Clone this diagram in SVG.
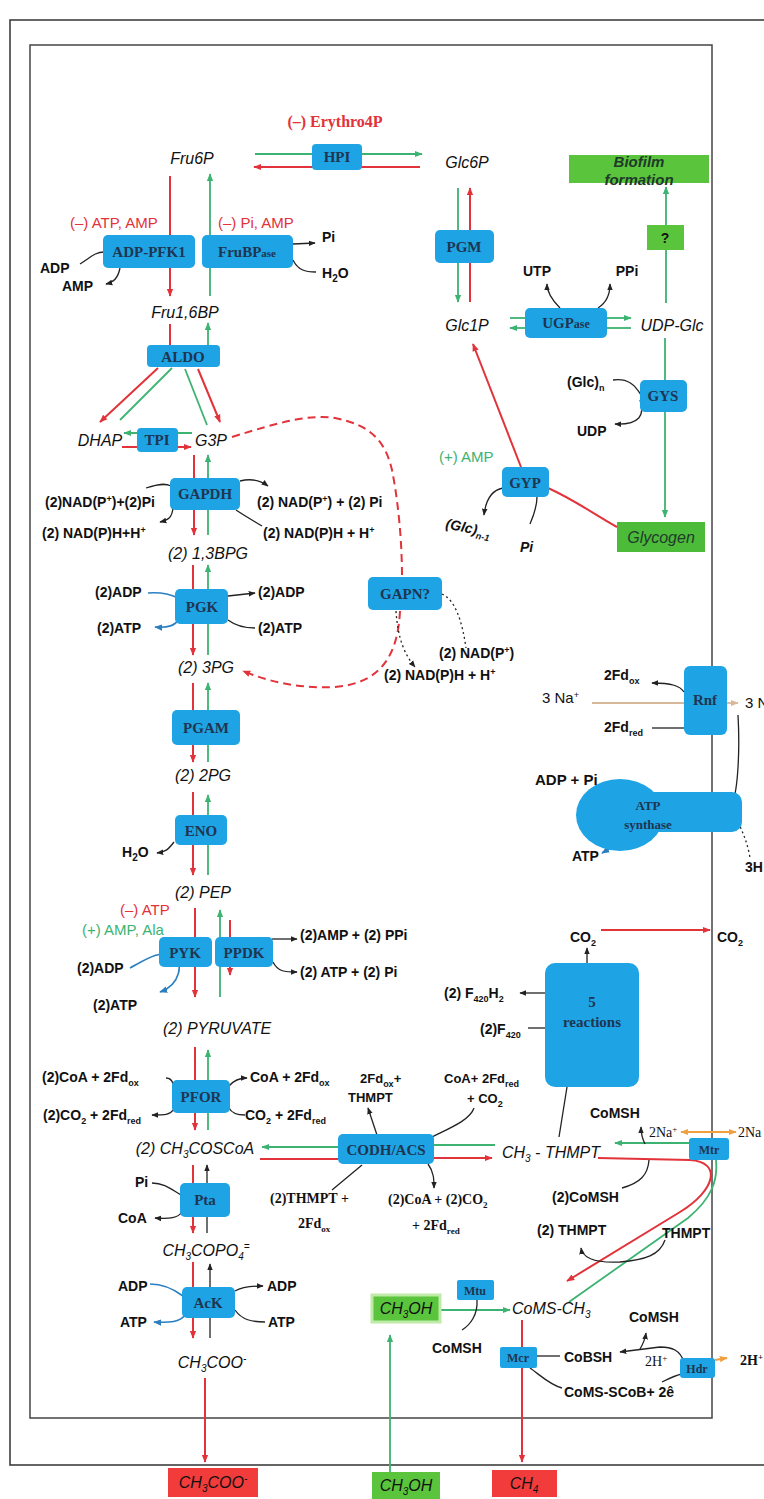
<svg xmlns="http://www.w3.org/2000/svg" width="764" height="1499" viewBox="0 0 764 1499">
<defs>
<style>
.box{fill:#1ea3e4}
.gbox{fill:#5ac53c}
.rbox{fill:#f23c3c}
.en{font-family:"Liberation Serif",serif;font-weight:bold;font-size:15px;fill:#1f3550;text-anchor:middle}
.ens{font-family:"Liberation Serif",serif;font-weight:bold;font-size:12px;fill:#1f3550;text-anchor:middle}
.met{font-family:"Liberation Sans",sans-serif;font-style:italic;font-size:16px;fill:#111}
.mid{text-anchor:middle}
.co{font-family:"Liberation Sans",sans-serif;font-weight:bold;font-size:14px;fill:#111}
.ser{font-family:"Liberation Serif",serif;font-weight:bold;font-size:14px;fill:#111}
.rr{font-family:"Liberation Sans",sans-serif;font-size:15px;fill:#e2323a}
.rg{font-family:"Liberation Sans",sans-serif;font-size:15px;fill:#3cb371}
.r{stroke:#e2323a;stroke-width:2;fill:none}
.g{stroke:#3cb371;stroke-width:1.8;fill:none}
.k{stroke:#222;stroke-width:1.3;fill:none}
.b{stroke:#2a7fc0;stroke-width:1.6;fill:none}
.t{stroke:#d8b89a;stroke-width:1.8;fill:none}
.o{stroke:#f0a040;stroke-width:2;fill:none}
.dash{stroke-dasharray:8 5}
.dot{stroke-dasharray:2 3}
</style>
<marker id="ar" viewBox="0 0 10 10" refX="9" refY="5" markerWidth="8" markerHeight="8" markerUnits="userSpaceOnUse" orient="auto"><path d="M0,1 L10,5 L0,9 z" fill="#e2323a"/></marker>
<marker id="ag" viewBox="0 0 10 10" refX="9" refY="5" markerWidth="8" markerHeight="8" markerUnits="userSpaceOnUse" orient="auto"><path d="M0,1 L10,5 L0,9 z" fill="#3cb371"/></marker>
<marker id="ak" viewBox="0 0 10 10" refX="9" refY="5" markerWidth="7" markerHeight="7" markerUnits="userSpaceOnUse" orient="auto"><path d="M0,1 L10,5 L0,9 z" fill="#222"/></marker>
<marker id="ab" viewBox="0 0 10 10" refX="9" refY="5" markerWidth="8" markerHeight="8" markerUnits="userSpaceOnUse" orient="auto"><path d="M0,1 L10,5 L0,9 z" fill="#2a7fc0"/></marker>
<marker id="at" viewBox="0 0 10 10" refX="9" refY="5" markerWidth="8" markerHeight="8" markerUnits="userSpaceOnUse" orient="auto"><path d="M0,1 L10,5 L0,9 z" fill="#d8b89a"/></marker>
<marker id="ao" viewBox="0 0 10 10" refX="9" refY="5" markerWidth="8" markerHeight="8" markerUnits="userSpaceOnUse" orient="auto-start-reverse"><path d="M0,1 L10,5 L0,9 z" fill="#f0a040"/></marker>
</defs>
<rect width="764" height="1499" fill="#fff"/>
<g id="frames">
<path d="M770 20 H10 V1465 H770" fill="none" stroke="#333" stroke-width="1.5"/>
<rect x="30" y="45" width="682" height="1373" fill="none" stroke="#444" stroke-width="1.5"/>
</g>
<g id="connectors">
<path class="g" d="M255 154 L422 154" marker-end="url(#ag)"/>
<path class="r" d="M420 167 L254 167" marker-end="url(#ar)"/>
<path class="r" d="M170 176 L170 296" marker-end="url(#ar)"/>
<path class="g" d="M210 296 L210 174" marker-end="url(#ag)"/>
<path class="k" d="M293 244 L315 243" marker-end="url(#ak)"/>
<path class="k" d="M293 260 C298 270 305 272 316 272"/>
<path class="k" d="M80 264 C90 258 95 252 104 252"/>
<path class="k" d="M120 268 C118 278 114 282 106 284" marker-end="url(#ak)"/>
<path class="r" d="M170 324 L170 345"/>
<path class="g" d="M208 345 L208 323" marker-end="url(#ag)"/>
<path class="r" d="M158 368 L100 422" marker-end="url(#ar)"/>
<path class="g" d="M120 420 L172 368"/>
<path class="g" d="M207 425 L185 369"/>
<path class="r" d="M198 369 L220 422" marker-end="url(#ar)"/>
<path class="g" d="M192 433 L124 433" marker-end="url(#ag)"/>
<path class="r" d="M122 447 L191 447" marker-end="url(#ar)"/>
<path class="r" d="M194 455 L194 535" marker-end="url(#ar)"/>
<path class="g" d="M208 535 L208 455" marker-end="url(#ag)"/>
<path class="k" d="M146 488 C158 484 165 483 171 486"/>
<path class="k" d="M173 508 C172 518 168 520 160 522" marker-end="url(#ak)"/>
<path class="k" d="M240 481 C252 478 260 480 268 486" marker-end="url(#ak)"/>
<path class="k" d="M236 510 C245 516 252 520 262 526"/>
<path class="r" d="M193 565 L193 655" marker-end="url(#ar)"/>
<path class="g" d="M208 655 L208 565" marker-end="url(#ag)"/>
<path class="b" d="M148 593 C162 592 170 594 178 598"/>
<path class="b" d="M180 618 C175 626 168 628 155 627" marker-end="url(#ab)"/>
<path class="k" d="M228 596 L255 593" marker-end="url(#ak)"/>
<path class="k" d="M228 620 C236 626 245 628 255 628"/>
<path class="r" d="M193 683 L193 762" marker-end="url(#ar)"/>
<path class="g" d="M208 762 L208 683" marker-end="url(#ag)"/>
<path class="r" d="M193 792 L193 875" marker-end="url(#ar)"/>
<path class="g" d="M208 875 L208 795" marker-end="url(#ag)"/>
<path class="k" d="M174 842 C168 850 165 852 157 853" marker-end="url(#ak)"/>
<path class="r" d="M195 908 L195 997" marker-end="url(#ar)"/>
<path class="g" d="M220 997 L220 910" marker-end="url(#ag)"/>
<path class="r" d="M230 920 L230 975" marker-end="url(#ar)"/>
<path class="k" d="M272 939 L297 939" marker-end="url(#ak)"/>
<path class="k" d="M273 962 C278 972 285 972 297 972" marker-end="url(#ak)"/>
<path class="b" d="M130 968 C145 960 160 950 172 955 C185 962 180 985 160 992" marker-end="url(#ab)"/>
<path class="r" d="M195 1047 L195 1130" marker-end="url(#ar)"/>
<path class="g" d="M208 1130 L208 1050" marker-end="url(#ag)"/>
<path class="k" d="M166 1078 C170 1078 172 1080 173 1084"/>
<path class="k" d="M229 1086 C234 1080 240 1078 247 1078" marker-end="url(#ak)"/>
<path class="k" d="M173 1110 C170 1115 165 1115 152 1115" marker-end="url(#ak)"/>
<path class="k" d="M229 1108 C232 1114 238 1115 245 1115"/>
<path class="g" d="M338 1147 L262 1147" marker-end="url(#ag)"/>
<path class="r" d="M260 1159 L338 1159"/>
<path class="k" d="M377 1135 L368 1108" marker-end="url(#ak)"/>
<path class="k" d="M432 1137 C450 1128 470 1120 474 1108"/>
<path class="k" d="M362 1165 L332 1190"/>
<path class="k" d="M428 1164 C434 1172 434 1180 434 1188" marker-end="url(#ak)"/>
<path class="g" d="M434 1145 L495 1145"/>
<path class="r" d="M434 1158 L492 1158" marker-end="url(#ar)"/>
<path class="r" d="M193 1165 L193 1233" marker-end="url(#ar)"/>
<path class="k" d="M207 1233 L207 1165" marker-end="url(#ak)"/>
<path class="k" d="M152 1183 C165 1183 172 1190 181 1195"/>
<path class="k" d="M182 1212 C178 1218 170 1219 155 1218" marker-end="url(#ak)"/>
<path class="r" d="M193 1262 L193 1338" marker-end="url(#ar)"/>
<path class="k" d="M210 1338 L210 1264" marker-end="url(#ak)"/>
<path class="b" d="M150 1284 C165 1284 175 1290 183 1296"/>
<path class="b" d="M185 1315 C180 1322 170 1323 154 1322" marker-end="url(#ab)"/>
<path class="k" d="M235 1291 C242 1287 250 1286 263 1286" marker-end="url(#ak)"/>
<path class="k" d="M235 1310 C242 1320 252 1322 265 1322"/>
<path class="r" d="M205 1378 L205 1462" marker-end="url(#ar)"/>
<path class="r dash" d="M232 437 C280 422 310 414 335 418 C370 425 385 440 392 470 C398 500 402 540 402 577"/>
<path class="r dash" d="M400 611 C398 650 385 683 335 687 C295 689 265 680 243 671" marker-end="url(#ar)"/>
<path class="k dot" d="M442 594 C455 600 462 620 466 648"/>
<path class="k dot" d="M396 611 C398 640 405 655 415 667" marker-end="url(#ak)"/>
<path class="g" d="M458 188 L458 302" marker-end="url(#ag)"/>
<path class="r" d="M470 302 L470 188" marker-end="url(#ar)"/>
<path class="g" d="M525 318 L510 318"/>
<path class="g" d="M525 328 L510 328" marker-end="url(#ag)"/>
<path class="g" d="M607 318 L631 318" marker-end="url(#ag)"/>
<path class="g" d="M607 328 L631 328"/>
<path class="k" d="M560 308 C552 300 547 293 547 284" marker-end="url(#ak)"/>
<path class="k" d="M598 308 C606 303 610 295 610 284" marker-end="url(#ak)"/>
<path class="g" d="M666 303 L666 250"/>
<path class="g" d="M666 225 L666 187" marker-end="url(#ag)"/>
<path class="g" d="M665 338 L665 517" marker-end="url(#ag)"/>
<path class="k" d="M613 380 C628 378 635 385 641 395"/>
<path class="k" d="M640 400 C645 415 640 425 615 424" marker-end="url(#ak)"/>
<path class="r" d="M521 467 L473 344" marker-end="url(#ar)"/>
<path class="r" d="M548 488 C575 500 595 515 617 527"/>
<path class="k" d="M503 488 C492 490 486 498 484 515" marker-end="url(#ak)"/>
<path class="k" d="M537 497 C537 507 533 517 530 524"/>
<path class="t" d="M592 703 L684 703"/>
<path class="t" d="M727 703 L738 703" marker-end="url(#at)"/>
<path class="k" d="M684 692 C680 686 672 683 652 683" marker-end="url(#ak)"/>
<path class="k" d="M652 728 L684 728"/>
<path class="k" d="M738 715 C740 750 738 790 732 805"/>
<path class="k dot" d="M738 822 C744 835 748 845 750 858"/>
<path class="k" d="M598 796 C615 802 626 810 627 820 C628 832 622 840 614 846"/>
<path class="b" d="M614 846 L602 853" marker-end="url(#ab)"/>
<path class="k" d="M587 963 L587 948" marker-end="url(#ak)"/>
<path class="r" d="M601 930 L710 930" marker-end="url(#ar)"/>
<path class="k" d="M545 993 L520 993" marker-end="url(#ak)"/>
<path class="k" d="M528 1028 L545 1028"/>
<path class="k" d="M567 1087 L559 1137"/>
<path class="g" d="M689 1143 L615 1143" marker-end="url(#ag)"/>
<path class="k" d="M645 1144 C642 1138 641 1133 641 1127" marker-end="url(#ak)"/>
<path class="o" d="M681 1132 L736 1132" marker-start="url(#ao)" marker-end="url(#ao)"/>
<path class="r" d="M598 1158 L690 1160 C722 1162 716 1190 680 1212 L567 1281" marker-end="url(#ar)"/>
<path class="g" d="M569 1302 L688 1218 C712 1198 718 1180 716 1160"/>
<path class="k" d="M649 1160 C648 1175 640 1183 622 1188"/>
<path class="k" d="M665 1240 C660 1255 645 1260 620 1262 C598 1263 583 1260 581 1248" marker-end="url(#ak)"/>
<path class="g" d="M440 1310 L510 1310" marker-end="url(#ag)"/>
<path class="k" d="M477 1300 C478 1315 470 1325 462 1330"/>
<path class="g" d="M390 1472 L390 1335" marker-end="url(#ag)"/>
<path class="r" d="M522 1320 L522 1462" marker-end="url(#ar)"/>
<path class="k" d="M537 1356 L560 1356"/>
<path class="k" d="M684 1362 C680 1350 672 1347 660 1347 L620 1352" marker-end="url(#ak)"/>
<path class="k" d="M640 1349 C643 1344 645 1340 646 1333" marker-end="url(#ak)"/>
<path class="k" d="M530 1368 C540 1375 550 1385 562 1388"/>
<path class="k" d="M662 1382 C670 1378 676 1375 682 1374"/>
<path class="o" d="M715 1360 L727 1358" marker-end="url(#ao)"/>
</g>
<g id="n-hpi"><rect class="box" x="312" y="144" width="50" height="26" rx="4"/><text class="en" x="337" y="162">HPI</text></g>
<g id="n-pfk"><rect class="box" x="103" y="235" width="92" height="33" rx="5"/><text class="en" x="149" y="257">ADP-PFK1</text></g>
<g id="n-fbp"><rect class="box" x="202" y="235" width="91" height="33" rx="5"/><text class="en" x="247" y="257">FruBP<tspan font-size="11">ase</tspan></text></g>
<g id="n-aldo"><rect class="box" x="147" y="345" width="73" height="22" rx="4"/><text class="en" x="183" y="362">ALDO</text></g>
<g id="n-tpi"><rect class="box" x="137" y="428" width="41" height="24" rx="4"/><text class="en" x="157" y="445">TPI</text></g>
<g id="n-gapdh"><rect class="box" x="170" y="478" width="70" height="32" rx="5"/><text class="en" x="205" y="499">GAPDH</text></g>
<g id="n-pgk"><rect class="box" x="175" y="589" width="53" height="35" rx="5"/><text class="en" x="202" y="612">PGK</text></g>
<g id="n-pgam"><rect class="box" x="172" y="710" width="68" height="35" rx="5"/><text class="en" x="206" y="733">PGAM</text></g>
<g id="n-eno"><rect class="box" x="175" y="815" width="52" height="30" rx="5"/><text class="en" x="201" y="836">ENO</text></g>
<g id="n-pyk"><rect class="box" x="159" y="937" width="53" height="30" rx="5"/><text class="en" x="185" y="958">PYK</text></g>
<g id="n-ppdk"><rect class="box" x="215" y="937" width="58" height="30" rx="5"/><text class="en" x="244" y="958">PPDK</text></g>
<g id="n-pfor"><rect class="box" x="172" y="1080" width="58" height="33" rx="5"/><text class="en" x="201" y="1102">PFOR</text></g>
<g id="n-codh"><rect class="box" x="338" y="1134" width="96" height="30" rx="5"/><text class="en" x="386" y="1155">CODH/ACS</text></g>
<g id="n-pta"><rect class="box" x="180" y="1183" width="50" height="34" rx="5"/><text class="en" x="205" y="1205">Pta</text></g>
<g id="n-ack"><rect class="box" x="182" y="1287" width="53" height="31" rx="5"/><text class="en" x="208" y="1308">AcK</text></g>
<g id="n-gapn"><rect class="box" x="368" y="577" width="74" height="33" rx="5"/><text class="en" x="405" y="599">GAPN?</text></g>
<g id="n-pgm"><rect class="box" x="435" y="230" width="59" height="33" rx="5"/><text class="en" x="464" y="252">PGM</text></g>
<g id="n-ugp"><rect class="box" x="525" y="308" width="82" height="30" rx="5"/><text class="en" x="566" y="328">UGP<tspan font-size="12">ase</tspan></text></g>
<g id="n-gys"><rect class="box" x="640" y="380" width="47" height="32" rx="5"/><text class="en" x="663" y="401">GYS</text></g>
<g id="n-gyp"><rect class="box" x="502" y="467" width="47" height="30" rx="5"/><text class="en" x="525" y="488">GYP</text></g>
<g id="n-rnf"><rect class="box" x="684" y="666" width="43" height="69" rx="6"/><text class="en" x="705" y="705">Rnf</text></g>
<g id="n-atps"><ellipse class="box" cx="620" cy="815" rx="44" ry="36"/><rect class="box" x="630" y="792" width="112" height="40" rx="10"/><text class="ens" x="648" y="810" style="font-size:13px">ATP</text><text class="ens" x="648" y="829" style="font-size:13px">synthase</text></g>
<g id="n-5r"><rect class="box" x="545" y="963" width="94" height="124" rx="10"/><text class="en" x="592" y="1007">5</text><text class="en" x="592" y="1027">reactions</text></g>
<g id="n-mtr"><rect class="box" x="689" y="1138" width="40" height="22" rx="3"/><text class="ens" x="709" y="1154">Mtr</text></g>
<g id="n-mtu"><rect class="box" x="457" y="1280" width="37" height="20" rx="2"/><text class="ens" x="475" y="1295">Mtu</text></g>
<g id="n-mcr"><rect class="box" x="500" y="1347" width="37" height="21" rx="2"/><text class="ens" x="518" y="1362">Mcr</text></g>
<g id="n-hdr"><rect class="box" x="680" y="1358" width="35" height="20" rx="3"/><text class="ens" x="697" y="1373">Hdr</text></g>
<g id="n-biofilm"><rect class="gbox" x="569" y="155" width="140" height="28"/><text class="met mid" x="639" y="167" style="font-size:15px;font-weight:bold;fill:#1f3a2a">Biofilm</text><text class="met mid" x="639" y="185" style="font-size:15px;font-weight:bold;fill:#1f3a2a">formation</text></g>
<g id="n-q"><rect class="gbox" x="647" y="225" width="37" height="25"/><text class="co mid" x="665" y="243">?</text></g>
<g id="n-glycogen"><rect x="617" y="522" width="88" height="30" fill="#4dbb3a"/><text class="met mid" x="661" y="543" style="fill:#1f3a2a">Glycogen</text></g>
<g id="n-ch3oh-in"><rect x="372" y="1295" width="68" height="27" fill="#5ac53c" stroke="#bfeaa8" stroke-width="3"/><text class="met mid" x="406" y="1314">CH<tspan dy="4" font-size="10">3</tspan><tspan dy="-4">OH</tspan></text></g>
<g id="n-out-acetate"><rect class="rbox" x="168" y="1468" width="90" height="29"/><text class="met mid" x="213" y="1488">CH<tspan dy="4" font-size="10">3</tspan><tspan dy="-4">COO</tspan><tspan dy="-6" font-size="10">-</tspan></text></g>
<g id="n-out-ch3oh"><rect class="gbox" x="372" y="1472" width="68" height="27"/><text class="met mid" x="406" y="1491">CH<tspan dy="4" font-size="10">3</tspan><tspan dy="-4">OH</tspan></text></g>
<g id="n-out-ch4"><rect class="rbox" x="492" y="1470" width="65" height="27"/><text class="met mid" x="524" y="1489">CH<tspan dy="4" font-size="10">4</tspan></text></g>
<g id="metabolites">
<text class="met mid" x="192" y="164">Fru6P</text>
<text class="met mid" x="467" y="168">Glc6P</text>
<text class="met mid" x="185" y="318">Fru1,6BP</text>
<text class="met mid" x="100" y="446">DHAP</text>
<text class="met mid" x="211" y="446">G3P</text>
<text class="met mid" x="208" y="559">(2) 1,3BPG</text>
<text class="met mid" x="206" y="673">(2) 3PG</text>
<text class="met mid" x="203" y="781">(2) 2PG</text>
<text class="met mid" x="203" y="898">(2) PEP</text>
<text class="met mid" x="217" y="1034">(2) PYRUVATE</text>
<text class="met mid" x="195" y="1154">(2) CH<tspan dy="4" font-size="10">3</tspan><tspan dy="-4">COSCoA</tspan></text>
<text class="met mid" x="206" y="1256">CH<tspan dy="4" font-size="10">3</tspan><tspan dy="-4">COPO</tspan><tspan dy="4" font-size="10">4</tspan><tspan dy="-10" font-size="10">=</tspan></text>
<text class="met mid" x="212" y="1368">CH<tspan dy="4" font-size="10">3</tspan><tspan dy="-4">COO</tspan><tspan dy="-6" font-size="10">-</tspan></text>
<text class="met mid" x="467" y="331">Glc1P</text>
<text class="met mid" x="672" y="331">UDP-Glc</text>
<text class="met" x="502" y="1158">CH<tspan dy="4" font-size="10">3</tspan><tspan dy="-4"> - THMPT</tspan></text>
<text class="met" x="512" y="1314">CoMS-CH<tspan dy="4" font-size="10">3</tspan></text>
</g>
<g id="labels">
<text class="ser" x="335" y="127" text-anchor="middle" style="font-size:16px;fill:#e2323a">(–) Erythro4P</text>
<text class="rr" x="70" y="228">(–) ATP,  AMP</text>
<text class="rr" x="218" y="228">(–) Pi, AMP</text>
<text class="co" x="322" y="242">Pi</text>
<text class="co" x="322" y="278">H<tspan dy="4" font-size="10">2</tspan><tspan dy="-4">O</tspan></text>
<text class="co" x="40" y="273">ADP</text>
<text class="co" x="62" y="291">AMP</text>
<text class="co" x="537" y="276" text-anchor="middle">UTP</text>
<text class="co" x="627" y="276" text-anchor="middle">PPi</text>
<text class="co" x="567" y="387">(Glc)<tspan dy="4" font-size="9">n</tspan></text>
<text class="co" x="577" y="436">UDP</text>
<text class="rg" x="439" y="462">(+)  AMP</text>
<text class="co" x="445" y="528" style="font-style:italic" transform="rotate(12 445 528)">(Glc)<tspan dy="4" font-size="9">n-1</tspan></text>
<text class="co" x="520" y="552" style="font-style:italic">Pi</text>
<text class="co" x="45" y="507">(2)NAD(P<tspan dy="-5" font-size="9">+</tspan><tspan dy="5">)+(2)Pi</tspan></text>
<text class="co" x="42" y="538">(2) NAD(P)H+H<tspan dy="-5" font-size="9">+</tspan></text>
<text class="co" x="257" y="507">(2) NAD(P<tspan dy="-5" font-size="9">+</tspan><tspan dy="5">) + (2) Pi</tspan></text>
<text class="co" x="263" y="538">(2) NAD(P)H + H<tspan dy="-5" font-size="9">+</tspan></text>
<text class="co" x="95" y="597">(2)ADP</text>
<text class="co" x="97" y="633">(2)ATP</text>
<text class="co" x="258" y="597">(2)ADP</text>
<text class="co" x="258" y="633">(2)ATP</text>
<text class="co" x="439" y="658">(2) NAD(P<tspan dy="-5" font-size="9">+</tspan><tspan dy="5">)</tspan></text>
<text class="co" x="384" y="680">(2) NAD(P)H + H<tspan dy="-5" font-size="9">+</tspan></text>
<text class="co" x="122" y="857">H<tspan dy="4" font-size="10">2</tspan><tspan dy="-4">O</tspan></text>
<text class="rr" x="120" y="915">(–) ATP</text>
<text class="rg" x="82" y="935">(+) AMP, Ala</text>
<text class="co" x="300" y="940">(2)AMP + (2) PPi</text>
<text class="co" x="300" y="977">(2) ATP + (2) Pi</text>
<text class="co" x="77" y="973">(2)ADP</text>
<text class="co" x="93" y="1010">(2)ATP</text>
<text class="co" x="42" y="1082">(2)CoA + 2Fd<tspan dy="4" font-size="9">ox</tspan></text>
<text class="co" x="250" y="1082">CoA + 2Fd<tspan dy="4" font-size="9">ox</tspan></text>
<text class="co" x="43" y="1120">(2)CO<tspan dy="4" font-size="9">2</tspan><tspan dy="-4"> + 2Fd</tspan><tspan dy="4" font-size="9">red</tspan></text>
<text class="co" x="245" y="1120">CO<tspan dy="4" font-size="9">2</tspan><tspan dy="-4"> + 2Fd</tspan><tspan dy="4" font-size="9">red</tspan></text>
<text class="co" x="360" y="1083" style="font-size:13px">2Fd<tspan dy="4" font-size="9">ox</tspan><tspan dy="-4">+</tspan></text>
<text class="co" x="348" y="1102" style="font-size:13px">THMPT</text>
<text class="co" x="444" y="1083" style="font-size:13px">CoA+ 2Fd<tspan dy="4" font-size="9">red</tspan></text>
<text class="co" x="467" y="1103" style="font-size:13px">+ CO<tspan dy="4" font-size="9">2</tspan></text>
<text class="ser" x="270" y="1203">(2)THMPT +</text>
<text class="ser" x="298" y="1228">2Fd<tspan dy="4" font-size="9">ox</tspan></text>
<text class="ser" x="388" y="1204">(2)CoA + (2)CO<tspan dy="4" font-size="9">2</tspan></text>
<text class="ser" x="412" y="1230">+  2Fd<tspan dy="4" font-size="9">red</tspan></text>
<text class="co" x="135" y="1187">Pi</text>
<text class="co" x="118" y="1223">CoA</text>
<text class="co" x="118" y="1291">ADP</text>
<text class="co" x="120" y="1327">ATP</text>
<text class="co" x="267" y="1291">ADP</text>
<text class="co" x="268" y="1327">ATP</text>
<text class="co" x="604" y="680">2Fd<tspan dy="4" font-size="9">ox</tspan></text>
<text class="co" x="542" y="703" style="font-weight:normal;font-size:15px">3 Na<tspan dy="-5" font-size="9">+</tspan></text>
<text class="co" x="745" y="708" style="font-weight:normal;font-size:15px">3 Na</text>
<text class="co" x="604" y="732">2Fd<tspan dy="4" font-size="9">red</tspan></text>
<text class="co" x="535" y="785" style="font-size:15px">ADP + Pi</text>
<text class="co" x="572" y="861">ATP</text>
<text class="co" x="745" y="872">3H</text>
<text class="co" x="570" y="942">CO<tspan dy="4" font-size="9">2</tspan></text>
<text class="co" x="717" y="942">CO<tspan dy="4" font-size="9">2</tspan></text>
<text class="co" x="444" y="998">(2) F<tspan dy="4" font-size="9">420</tspan><tspan dy="-4">H</tspan><tspan dy="4" font-size="9">2</tspan></text>
<text class="co" x="480" y="1034">(2)F<tspan dy="4" font-size="9">420</tspan></text>
<text class="co" x="590" y="1118">CoMSH</text>
<text class="ser" x="649" y="1137" style="font-weight:normal">2Na<tspan dy="-5" font-size="9">+</tspan></text>
<text class="ser" x="738" y="1137" style="font-weight:normal">2Na</text>
<text class="co" x="552" y="1202">(2)CoMSH</text>
<text class="co" x="537" y="1235">(2) THMPT</text>
<text class="co" x="662" y="1238">THMPT</text>
<text class="co" x="432" y="1353">CoMSH</text>
<text class="co" x="629" y="1322">CoMSH</text>
<text class="co" x="564" y="1362">CoBSH</text>
<text class="ser" x="645" y="1366" style="font-weight:normal">2H<tspan dy="-5" font-size="9">+</tspan></text>
<text class="ser" x="740" y="1365">2H<tspan dy="-5" font-size="9">+</tspan></text>
<text class="co" x="564" y="1397">CoMS-SCoB+ 2ê</text>
</g>
</svg>
